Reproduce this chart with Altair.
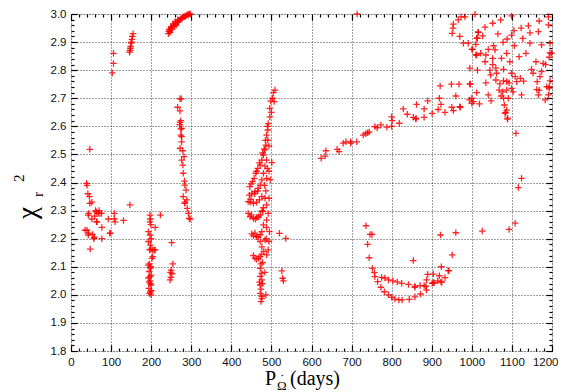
import altair as alt
import pandas as pd

# ---- data (period in days, reduced chi^2) ----
a_x = [39, 40, 42, 46, 52, 44, 61, 68, 72, 76, 52, 59, 65, 93, 108, 108, 110, 131, 77, 40, 44, 54, 57, 77, 98, 48, 47, 147, 64, 70, 47, 43, 35, 43, 58, 64, 97]
a_y = [2.397, 2.39, 2.36, 2.35, 2.33, 2.29, 2.30, 2.29, 2.29, 2.29, 2.27, 2.28, 2.26, 2.27, 2.29, 2.27, 2.26, 2.265, 2.24, 2.23, 2.22, 2.215, 2.20, 2.20, 2.22, 2.163, 2.518, 2.32, 2.295, 2.30, 2.326, 2.284, 2.23, 2.213, 2.205, 2.26, 2.219]

b_x = [106, 106, 103]
b_y = [2.86, 2.824, 2.79]

c_x = [146, 147, 149, 150, 152, 153, 155, 151, 148]
c_y = [2.864, 2.87, 2.885, 2.896, 2.91, 2.92, 2.93, 2.90, 2.878]

d_x = [243, 246, 250, 255, 260, 265, 270, 275, 280, 285, 290, 295, 247, 252, 257, 262, 268, 272, 278, 283, 288, 293, 298, 245, 250, 255, 260, 266, 244, 249]
d_y = [2.93, 2.94, 2.95, 2.96, 2.965, 2.97, 2.978, 2.985, 2.99, 2.993, 2.997, 3.0, 2.935, 2.945, 2.955, 2.96, 2.972, 2.98, 2.985, 2.99, 2.995, 2.998, 3.0, 2.945, 2.955, 2.965, 2.972, 2.98, 2.938, 2.95]

e_x = [272, 275, 266, 272, 274, 271, 276, 276, 272, 274, 274, 276, 272, 279, 282, 276, 279, 280, 283, 284, 287, 280, 289, 284, 290, 293, 295, 297, 284]
e_y = [2.698, 2.698, 2.668, 2.655, 2.62, 2.606, 2.593, 2.563, 2.614, 2.59, 2.569, 2.545, 2.522, 2.513, 2.492, 2.48, 2.462, 2.433, 2.405, 2.391, 2.373, 2.35, 2.338, 2.326, 2.308, 2.29, 2.272, 2.27, 2.33]

f_x = [197, 198, 197, 199, 223, 210, 193, 197, 200, 193, 198, 196, 204, 199, 210, 202, 193, 198, 195, 200, 193, 197, 200, 194, 198, 200, 208, 204, 196, 199, 197, 195, 198, 201, 196]
f_y = [2.284, 2.27, 2.26, 2.25, 2.284, 2.24, 2.225, 2.213, 2.20, 2.19, 2.177, 2.16, 2.16, 2.163, 2.16, 2.13, 2.106, 2.095, 2.083, 2.07, 2.06, 2.05, 2.035, 2.023, 2.01, 2.0, 2.16, 2.136, 2.11, 2.10, 2.065, 2.045, 2.04, 2.015, 2.005]

g_x = [251, 254, 250, 248, 252, 247, 249]
g_y = [2.186, 2.11, 2.088, 2.08, 2.075, 2.053, 2.062]

h_x = [509, 505, 507, 496, 500, 496, 492, 491, 488, 491, 486, 494, 484, 480, 476, 488, 501, 472, 466, 461, 457, 453, 484, 494, 480, 488, 497,
       476, 472, 467, 459, 451, 445, 442, 447, 455, 463, 470, 476, 484, 494, 488, 442, 447, 455, 463, 472, 477, 480, 492, 488, 480, 488, 495,
       451, 455, 463, 472, 476, 484, 494, 472, 476, 492, 459, 463, 472, 476, 488, 520, 536, 526, 528, 530, 472, 476, 472, 476, 472, 474, 472,
       476, 474, 484, 486, 498, 503, 490, 485, 482, 478, 470, 463, 449, 446, 449, 458, 466, 450, 460, 468, 478, 459, 467, 455, 468, 478, 474,
       478, 470, 476, 486, 483, 487, 481, 490]
h_y = [2.729, 2.72, 2.688, 2.664, 2.65, 2.634, 2.61, 2.587, 2.569, 2.551, 2.533, 2.53, 2.516, 2.498, 2.48, 2.48, 2.471, 2.462, 2.45, 2.433,
       2.415, 2.403, 2.458, 2.44, 2.433, 2.415, 2.41, 2.409, 2.391, 2.379, 2.367, 2.361, 2.355, 2.332, 2.33, 2.326, 2.33, 2.338, 2.35, 2.344,
       2.344, 2.32, 2.29, 2.278, 2.272, 2.275, 2.284, 2.296, 2.31, 2.29, 2.266, 2.249, 2.24, 2.225, 2.217, 2.21, 2.207, 2.214, 2.225, 2.195,
       2.19, 2.19, 2.171, 2.16, 2.13, 2.127, 2.136, 2.145, 2.142, 2.219, 2.201, 2.085, 2.059, 2.05, 2.094, 2.077, 2.066, 2.053, 2.035, 2.02,
       2.005, 1.987, 1.976, 2.08, 2.0, 2.69, 2.70, 2.60, 2.55, 2.52, 2.505, 2.47, 2.44, 2.395, 2.385, 2.34, 2.36, 2.37, 2.285, 2.27, 2.278,
       2.30, 2.22, 2.205, 2.14, 2.13, 2.115, 2.11, 2.04, 2.045, 1.995, 2.37, 2.39, 2.20, 2.155, 2.45]

i_x = [624, 634, 636, 664, 669, 679, 686, 698, 698, 713, 729, 735, 740, 744, 758, 764, 773, 788, 800, 801, 800, 819, 829, 839, 854, 860,
       861, 881, 862, 890, 881, 901, 919, 916, 923, 933, 950, 954, 971, 960, 921, 949, 968, 996, 714]
i_y = [2.486, 2.494, 2.513, 2.518, 2.51, 2.54, 2.545, 2.545, 2.54, 2.545, 2.569, 2.574, 2.577, 2.58, 2.599, 2.595, 2.605, 2.597, 2.634,
       2.62, 2.60, 2.611, 2.662, 2.643, 2.632, 2.626, 2.628, 2.632, 2.678, 2.691, 2.662, 2.646, 2.70, 2.66, 2.678, 2.65, 2.668, 2.656,
       2.668, 2.708, 2.744, 2.75, 2.75, 2.75, 3.0]

j_x = [736, 746, 751, 740, 744, 752, 757, 758, 765, 773, 782, 792, 800, 808, 818, 775, 783, 792, 803, 814, 826, 844, 858, 872, 887, 901,
       906, 915, 925, 933, 943, 951, 854, 922, 960, 1026, 1093, 1108, 1116, 1124, 825, 842, 858, 858, 871, 881, 885, 887, 890, 904, 904,
       919, 923, 924, 941]
j_y = [2.246, 2.215, 2.215, 2.18, 2.132, 2.094, 2.079, 2.065, 2.047, 2.027, 2.011, 2.0, 1.991, 1.985, 1.982, 2.062, 2.06, 2.053, 2.05,
       2.046, 1.982, 1.984, 1.993, 2.003, 2.017, 2.041, 2.043, 2.05, 2.045, 2.061, 2.086, 2.142, 2.122, 2.213, 2.221, 2.227, 2.233, 2.255,
       2.382, 2.415, 2.041, 2.037, 2.031, 2.027, 2.033, 2.033, 2.03, 2.053, 2.073, 2.074, 2.043, 2.068, 2.046, 2.10, 2.086]

k_x = [1008, 973, 1099, 1191, 1033, 1052, 1072, 1123, 1141, 1168, 1191, 1016, 1027, 1065, 1105, 1099, 1145, 1166, 979, 991, 1010, 1014,
       1054, 1078, 1088, 1127, 1106, 1145, 1174, 1195, 1002, 1012, 1022, 1041, 1058, 1035, 1074, 1087, 1095, 1118, 1135, 1160, 1178, 1199,
       1033, 1052, 1052, 1045, 1060, 1047, 1062, 1079, 1099, 1108, 1121, 1129, 1112, 1149, 1153, 1174, 1170, 1163, 1195, 995, 995, 1035,
       1060, 1070, 1079, 1087, 1093, 1068, 1077, 1087, 1099, 1103, 1124, 1162, 1166, 1193, 1191, 1073, 1079, 1091, 1000, 1004, 1019, 1048,
       1081, 1087, 1083, 1089, 1110, 970, 1183, 1195, 1193, 1184, 1187, 1193, 1168, 954, 953, 951, 966, 983, 970, 1000, 1016, 1012, 1010,
       1014, 1012, 994, 1000, 1041, 1089, 1084]
k_y = [2.999, 2.99, 2.993, 2.99, 2.953, 2.967, 2.979, 2.95, 2.958, 2.975, 2.961, 2.935, 2.922, 2.929, 2.941, 2.925, 2.933, 2.937, 2.896,
       2.896, 2.892, 2.913, 2.887, 2.899, 2.911, 2.913, 2.887, 2.896, 2.89, 2.896, 2.874, 2.854, 2.86, 2.874, 2.872, 2.854, 2.842, 2.86,
       2.83, 2.848, 2.86, 2.83, 2.824, 2.86, 2.83, 2.842, 2.82, 2.80, 2.807, 2.783, 2.789, 2.803, 2.789, 2.777, 2.771, 2.761, 2.759, 2.803,
       2.789, 2.795, 2.777, 2.759, 2.762, 2.807, 2.751, 2.755, 2.765, 2.751, 2.762, 2.76, 2.755, 2.729, 2.723, 2.729, 2.735, 2.723, 2.712,
       2.731, 2.712, 2.741, 2.712, 2.708, 2.70, 2.70, 2.70, 2.688, 2.68, 2.691, 2.676, 2.658, 2.646, 2.626, 2.575, 2.67, 2.694, 2.862,
       2.846, 2.82, 2.741, 2.736, 2.729, 2.964, 2.95, 2.931, 2.979, 2.99, 2.92, 2.874, 2.935, 2.915, 2.854, 2.80, 2.72, 2.694, 2.682,
       2.712, 2.629, 2.65]

x_ticks_major = [0, 100, 200, 300, 400, 500, 600, 700, 800, 900, 1000, 1100, 1200]
y_ticks_major = [1.8, 1.9, 2.0, 2.1, 2.2, 2.3, 2.4, 2.5, 2.6, 2.7, 2.8, 2.9, 3.0]
x_ticks_all = list(range(0, 1201, 20))
y_ticks_all = [round(1.8 + 0.02 * i, 2) for i in range(61)]

xs = a_x + b_x + c_x + d_x + e_x + f_x + g_x + h_x + i_x + j_x + k_x
ys = a_y + b_y + c_y + d_y + e_y + f_y + g_y + h_y + i_y + j_y + k_y
df = pd.DataFrame({"period": xs, "chi2": ys})

W, H = 481, 337
xscale = alt.Scale(domain=[0, 1200], nice=False, zero=False)
yscale = alt.Scale(domain=[1.8, 3.0], nice=False, zero=False)

LABEL_FONT = "Liberation Sans"
SERIF = "Liberation Serif"

last_x = "datum.value === 1200"
x_main = alt.Axis(values=x_ticks_major, format="d", ticks=False, domain=False, grid=True,
                  gridColor="#000000", gridDash=[1, 2], gridOpacity=0.75, gridWidth=1,
                  labelFont=LABEL_FONT, labelFontSize=11.5, labelColor="#111111",
                  labelPadding=5, labelFlush=False, labelOverlap=False, title=None,
                  labelAlign={"condition": {"test": last_x, "value": "right"}, "value": "center"},
                  labelOffset={"condition": {"test": last_x, "value": 6}, "value": 0})
y_main = alt.Axis(values=y_ticks_major, format=".1f", ticks=False, domain=False, grid=True,
                  gridColor="#000000", gridDash=[1, 2], gridOpacity=0.75, gridWidth=1,
                  labelFont=LABEL_FONT, labelFontSize=11.5, labelColor="#111111",
                  labelPadding=5, labelFlush=False, labelOverlap=False, title=None)

x_cond = {"condition": {"test": "datum.value % 100 === 0", "value": 6}, "value": 3}
y_cond = {"condition": {"test": "abs(datum.value*10 - round(datum.value*10)) < 0.001", "value": 6}, "value": 3}


def tick_axis(vals, orient, offset, cond):
    return alt.Axis(values=vals, orient=orient, offset=offset, labels=False, domain=False,
                    grid=False, ticks=True, tickSize=cond, tickColor="#000000", tickWidth=1.2,
                    title=None)


cross = "M-1,0L1,0M0,-1L0,1"
base = alt.Chart(df)

points = base.mark_point(shape=cross, filled=False, stroke="#ff0000", strokeWidth=1.3,
                         size=42, opacity=0.85).encode(
    x=alt.X("period:Q", scale=xscale, axis=x_main),
    y=alt.Y("chi2:Q", scale=yscale, axis=y_main),
)

ticks_in1 = base.mark_point(opacity=0).encode(
    x=alt.X("period:Q", scale=xscale, axis=tick_axis(x_ticks_all, "top", -H, x_cond)),
    y=alt.Y("chi2:Q", scale=yscale, axis=tick_axis(y_ticks_all, "right", -W, y_cond)),
)
ticks_in2 = base.mark_point(opacity=0).encode(
    x=alt.X("period:Q", scale=xscale, axis=tick_axis(x_ticks_all, "bottom", -H, x_cond)),
    y=alt.Y("chi2:Q", scale=yscale, axis=tick_axis(y_ticks_all, "left", -W, y_cond)),
)

label_df = pd.DataFrame({"t": [""]})


def label(text, x, y, size, angle=0, baseline="alphabetic"):
    return alt.Chart(label_df).mark_text(
        text=text, font=SERIF, fontSize=size, color="#000000", align="left",
        baseline=baseline, angle=angle,
    ).encode(x=alt.value(x), y=alt.value(y))


x_title = [
    label("P", 194, 371, 20),
    label("\u03A9", 206, 376, 13),
    label("\u02D9", 209, 369, 13),
    label("(days)", 219, 371, 20),
]
y_title = [
    label("\u03C7", -35, 205, 27, angle=270),
    label("r", -28, 183, 15, angle=270),
    label("2", -47, 168, 15, angle=270),
]

chart = alt.layer(points, ticks_in1, ticks_in2, *x_title, *y_title).resolve_axis(
    x="independent", y="independent"
).properties(
    width=W, height=H,
    autosize=alt.AutoSizeParams(type="none"),
    padding={"left": 63, "top": 6, "right": 6, "bottom": 41},
).configure_view(stroke="#000000", strokeWidth=2).configure(background="#ffffff")

chart.save("out.html", embed_options={"renderer": "svg", "actions": False})
